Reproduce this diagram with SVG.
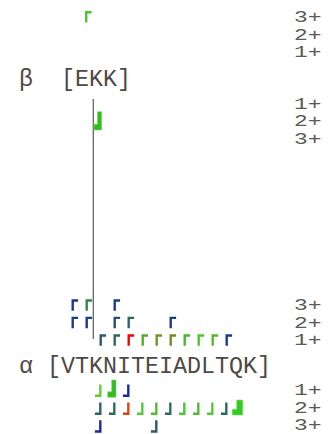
<svg xmlns="http://www.w3.org/2000/svg" xmlns:xlink="http://www.w3.org/1999/xlink" width="328" height="434" viewBox="0 0 328 434">
<style>
.seq{font-family:"Liberation Mono","Courier New",monospace;font-size:23.33px;fill:#4a4a4a;white-space:pre}
.chg{font-family:"Liberation Mono","Courier New",monospace;font-size:17px;fill:#5a5a5a}
.mk{fill:none;stroke-width:2.4;stroke-linecap:butt;stroke-linejoin:miter}
.thick{stroke:#7fd86a;stroke-width:0.6}
</style>
<defs>
<path id="up" class="mk" d="M1.2,11.5 V1.2 H6.6"/>
<path id="dn" class="mk" d="M-1.2,-12.5 V-1.2 H-6.6"/>
</defs>
<rect width="328" height="434" fill="#fff"/>
<g id="connectors">
<line x1="93.3" y1="99" x2="93.3" y2="339" stroke="#666" stroke-width="1.3"/>
</g>
<g id="beta">
<text class="seq" x="19" y="85.5" xml:space="preserve">β  [EKK]</text>
<g class="chg">
<text transform="translate(294,22.3) scale(1.35,1)">3+</text>
<text transform="translate(294,39.8) scale(1.35,1)">2+</text>
<text transform="translate(294,57.3) scale(1.35,1)">1+</text>
<text transform="translate(294,108.5) scale(1.35,1)">1+</text>
<text transform="translate(294,126) scale(1.35,1)">2+</text>
<text transform="translate(294,143.5) scale(1.35,1)">3+</text>
</g>
<use xlink:href="#up" x="85" y="11" stroke="#44cc22"/>
<polygon class="thick" fill="#33bb22" points="97.4,111.7 101.7,111.7 101.7,130 94,130 94,124.2 97.4,124.2"/>
</g>
<g id="alpha">
<text class="seq" x="19" y="372.5" xml:space="preserve">α [VTKNITEIADLTQK]</text>
<g class="chg">
<text transform="translate(294,310) scale(1.35,1)">3+</text>
<text transform="translate(294,327.5) scale(1.35,1)">2+</text>
<text transform="translate(294,345) scale(1.35,1)">1+</text>
<text transform="translate(294,395) scale(1.35,1)">1+</text>
<text transform="translate(294,412.5) scale(1.35,1)">2+</text>
<text transform="translate(294,430) scale(1.35,1)">3+</text>
</g>
<g id="alpha-upper">
<use xlink:href="#up" x="71.5" y="299.3" stroke="#1a3a8a"/>
<use xlink:href="#up" x="85.5" y="299.3" stroke="#2e8b45"/>
<use xlink:href="#up" x="113.5" y="299.3" stroke="#1a3a8a"/>
<use xlink:href="#up" x="71.5" y="316.7" stroke="#1a3a8a"/>
<use xlink:href="#up" x="85.5" y="316.7" stroke="#1a3a8a"/>
<use xlink:href="#up" x="113.5" y="316.7" stroke="#254f78"/>
<use xlink:href="#up" x="127.5" y="316.7" stroke="#2a6a60"/>
<use xlink:href="#up" x="169.5" y="316.7" stroke="#1a3a8a"/>
<use xlink:href="#up" x="99.5" y="334.3" stroke="#2a5a68"/>
<use xlink:href="#up" x="113.5" y="334.3" stroke="#2a6a5e"/>
<use xlink:href="#up" x="127.5" y="334.3" stroke="#ff0000"/>
<use xlink:href="#up" x="141.5" y="334.3" stroke="#5aaa2a"/>
<use xlink:href="#up" x="155.5" y="334.3" stroke="#6a9a22"/>
<use xlink:href="#up" x="169.5" y="334.3" stroke="#7a8a14"/>
<use xlink:href="#up" x="183.5" y="334.3" stroke="#44bb22"/>
<use xlink:href="#up" x="197.5" y="334.3" stroke="#44cc22"/>
<use xlink:href="#up" x="211.5" y="334.3" stroke="#55bb22"/>
<use xlink:href="#up" x="225.5" y="334.3" stroke="#1a3a8a"/>
</g>
<g id="alpha-lower">
<use xlink:href="#dn" x="101.5" y="397" stroke="#66cc33"/>
<polygon class="thick" fill="#33bb22" points="111.7,380 116,380 116,397.3 107.7,397.3 107.7,391.7 111.7,391.7"/>
<use xlink:href="#dn" x="129.5" y="397" stroke="#1a2a9a"/>
<use xlink:href="#dn" x="101.5" y="415" stroke="#2a6070"/>
<use xlink:href="#dn" x="115.5" y="415" stroke="#2a7060"/>
<use xlink:href="#dn" x="129.5" y="415" stroke="#dd4411"/>
<use xlink:href="#dn" x="143.5" y="415" stroke="#55cc33"/>
<use xlink:href="#dn" x="157.5" y="415" stroke="#55bb33"/>
<use xlink:href="#dn" x="171.5" y="415" stroke="#2a7060"/>
<use xlink:href="#dn" x="185.5" y="415" stroke="#44cc33"/>
<use xlink:href="#dn" x="199.5" y="415" stroke="#55bb33"/>
<use xlink:href="#dn" x="213.5" y="415" stroke="#55cc33"/>
<use xlink:href="#dn" x="227.5" y="415" stroke="#2a6a60"/>
<polygon class="thick" fill="#33cc22" points="236.7,400 242.7,400 242.7,415 232.3,415 232.3,409.3 236.7,409.3"/>
<use xlink:href="#dn" x="101.5" y="432.7" stroke="#1a2a9a"/>
<use xlink:href="#dn" x="157.5" y="432.7" stroke="#2a5a70"/>
</g>
</g>
</svg>
